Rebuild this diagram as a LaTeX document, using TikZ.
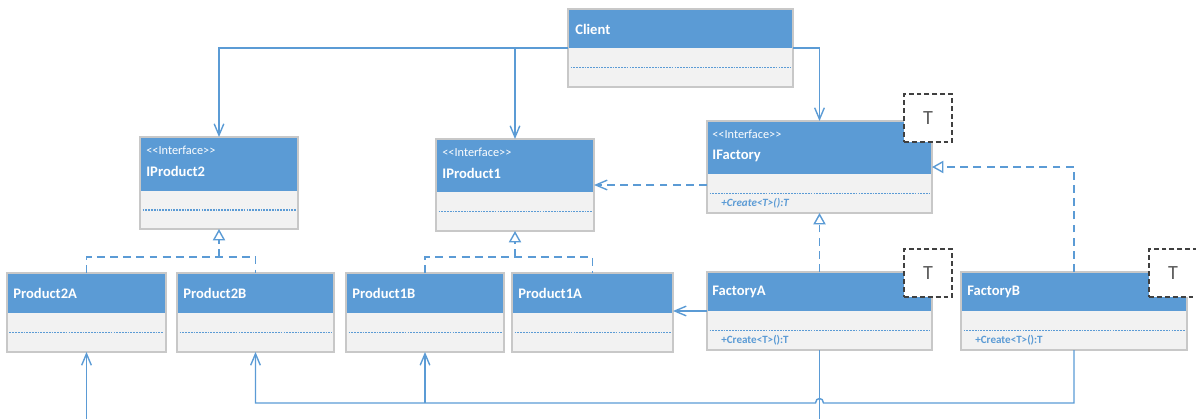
\documentclass[tikz,border=0pt]{standalone}
\usepackage{fontspec}
\setmainfont{Carlito}
\usetikzlibrary{arrows.meta}

\definecolor{headblue}{HTML}{5B9BD5}
\definecolor{bodygray}{HTML}{F2F2F2}
\definecolor{edgegray}{HTML}{C8C8C8}
\definecolor{linkblue}{HTML}{5B9BD5}
\definecolor{tgray}{HTML}{404040}

% stereotype brackets, kept apart so they do not turn into guillemets
\newcommand{\stereo}[1]{<\kern0pt<#1>\kern0pt>}

\begin{document}
\begin{tikzpicture}[x=0.02cm, y=-0.02cm]

    \tikzset{
        umlclass/.style n args={3}{draw=edgegray, fill=bodygray, line width=0.6pt,
            inner sep=0, outer sep=0, anchor=north west,
            minimum width=#1*0.02cm, minimum height=#2*0.02cm,
            path picture={
                \fill[headblue] (path picture bounding box.north west) rectangle
                    ([yshift=-#3*0.02cm]path picture bounding box.north east);
                \draw[linkblue, line width=0.65pt, dash pattern=on 1pt off 0.6pt]
                    ([shift={(0.05cm,{-(#2+#3)*0.01cm})}]path picture bounding box.north west) --
                    ([shift={(-0.05cm,{-(#2+#3)*0.01cm})}]path picture bounding box.north east);
            }},
        titletext/.style={anchor=west, inner sep=0, text=white, font=\bfseries\fontsize{8.3}{10}\selectfont},
        stereotext/.style={anchor=west, inner sep=0, text=white, font=\fontsize{7}{8}\selectfont},
        methodtext/.style={anchor=west, inner sep=0, text=linkblue, font=\bfseries\fontsize{6.3}{8}\selectfont},
        tparam/.style={draw=tgray, dash pattern=on 2.8pt off 1.7pt, fill=white, line width=0.6pt,
            minimum size=0.96cm, inner sep=0, text=tgray!85, font=\fontsize{11.5}{13}\selectfont},
        link/.style={draw=linkblue, line width=0.8pt},
        dashes/.style={dash pattern=on 4.5pt off 3pt},
        dep/.style={link, -{Straight Barb[length=6.5pt,width=5.5pt]}},
        real/.style={link, dashes, -{Triangle[length=6.5pt,width=7pt,fill=white]}}
    }
    \useasboundingbox (0,0) rectangle (1196,419);

    % classes
    \node[umlclass={225}{78}{39}] (client) at (568,9) {};
    \node[umlclass={158}{92}{54}] (iproducttwo) at (140,137) {};
    \node[umlclass={158}{92}{53}] (iproductone) at (436,139) {};
    \node[umlclass={225}{92}{53}] (ifactory) at (707,121) {};
    \node[umlclass={159}{79}{40}] (producttwoa) at (7,273) {};
    \node[umlclass={157}{79}{40}] (producttwob) at (177,273) {};
    \node[umlclass={158}{79}{40}] (productoneb) at (346,273) {};
    \node[umlclass={161}{79}{40}] (productonea) at (512,273) {};
    \node[umlclass={225}{78}{39}] (factorya) at (707,272) {};
    \node[umlclass={226}{78}{39}] (factoryb) at (961,272) {};

    % names
    \node[titletext] (client-name) at ([shift={(7,20)}]client.north west) {Client};
    \node[stereotext] (iproducttwo-st) at ([shift={(6,13)}]iproducttwo.north west) {\stereo{Interface}};
    \node[titletext] (iproducttwo-name) at ([shift={(6,34)}]iproducttwo.north west) {IProduct2};
    \node[stereotext] (iproductone-st) at ([shift={(6,13)}]iproductone.north west) {\stereo{Interface}};
    \node[titletext] (iproductone-name) at ([shift={(6,34)}]iproductone.north west) {IProduct1};
    \node[stereotext] (ifactory-st) at ([shift={(5,13)}]ifactory.north west) {\stereo{Interface}};
    \node[titletext] (ifactory-name) at ([shift={(5,35)}]ifactory.north west) {IFactory};
    \node[methodtext] (ifactory-op) at ([shift={(14,82)}]ifactory.north west) {\itshape +Create<T>():T};
    \node[titletext] (producttwoa-name) at ([shift={(6,20)}]producttwoa.north west) {Product2A};
    \node[titletext] (producttwob-name) at ([shift={(6,20)}]producttwob.north west) {Product2B};
    \node[titletext] (productoneb-name) at ([shift={(6,20)}]productoneb.north west) {Product1B};
    \node[titletext] (productonea-name) at ([shift={(6,20)}]productonea.north west) {Product1A};
    \node[titletext] (factorya-name) at ([shift={(5,20)}]factorya.north west) {FactoryA};
    \node[methodtext] (factorya-op) at ([shift={(14,68)}]factorya.north west) {+Create<T>():T};
    \node[titletext] (factoryb-name) at ([shift={(6,20)}]factoryb.north west) {FactoryB};
    \node[methodtext] (factoryb-op) at ([shift={(14,68)}]factoryb.north west) {+Create<T>():T};

    % template parameters
    \node[tparam] (ifactory-t) at (928,118) {T};
    \node[tparam] (factorya-t) at (928,273) {T};
    \node[tparam] (factoryb-t) at (1173,273) {T};

    % client uses
    \draw[dep] (client.west) -| (iproducttwo.north);
    \draw[dep] (client.west) -| (iproductone.north);
    \draw[dep] (client.east) -| (ifactory.north);
    \draw[dep, dashes] (ifactory.west |- iproductone.east) -- (iproductone.east);

    % realizations
    \draw[real] (factorya.north) -- (ifactory.south);
    \draw[real] (factoryb.north) |- (ifactory.east);
    \coordinate (jtwo) at (iproducttwo.south |- 0,257);
    \draw[link, dashes] (producttwoa.north) |- (jtwo) -| (producttwob.north);
    \draw[real] (jtwo) -- (iproducttwo.south);
    \coordinate (jone) at (iproductone.south |- 0,257);
    \draw[link, dashes] (productoneb.north) |- (jone) -| (productonea.north);
    \draw[real] (jone) -- (iproductone.south);

    % factories create products
    \draw[dep] (factorya.west) -- (productonea.east |- factorya.west);
    \coordinate (aout) at (factorya.south |- 0,419);
    \draw[link] (factorya.south) -- (aout);
    \coordinate (ain) at (producttwoa.south |- 0,419);
    \draw[dep] (ain) -- (producttwoa.south);
    \coordinate (hop) at (factorya.south |- 0,403);
    \draw[dep] (factoryb.south) |- ([xshift=0.08cm]hop)
        .. controls ([shift={(4,-6)}]hop) and ([shift={(-4,-6)}]hop) .. ([xshift=-0.08cm]hop)
        -| (producttwob.south);
    \draw[dep] (productoneb.south |- hop) -- (productoneb.south);

\end{tikzpicture}
\end{document}
